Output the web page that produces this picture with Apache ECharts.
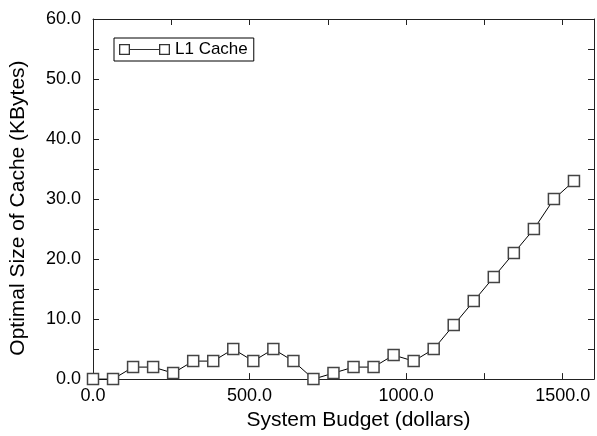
<!DOCTYPE html>
<html>
<head>
<meta charset="utf-8">
<script src="https://cdn.jsdelivr.net/npm/echarts@6/dist/echarts.min.js"></script>
<style>
html,body{margin:0;padding:0;background:#fff;}
#chart{width:597px;height:436px;}
</style>
</head>
<body>
<div id="chart"></div>
<script>
// Data
var budget = [0, 64, 128, 192, 256, 320, 384, 448, 512, 576, 640, 704, 768, 832, 896, 960, 1024, 1088, 1152, 1216, 1280, 1344, 1408, 1472, 1536];
var l1Cache = [0, 0, 2, 2, 1, 3, 3, 5, 3, 5, 3, 0, 1, 2, 2, 4, 3, 5, 9, 13, 17, 21, 25, 30, 33];
var seriesName = 'L1 Cache';
var xTitle = 'System Budget (dollars)';
var yTitle = 'Optimal Size of Cache (KBytes)';

var FONT = "'Liberation Sans', Arial, Helvetica, sans-serif";
var points = budget.map(function (b, i) { return [b, l1Cache[i]]; });

var axisLine = { show: true, onZero: false, lineStyle: { color: '#222', width: 1 } };
var tickIn = { show: true, inside: true, length: 6, lineStyle: { color: '#222', width: 1 } };

var chart = echarts.init(document.getElementById('chart'), null, { renderer: 'canvas' });
chart.setOption({
  animation: false,
  backgroundColor: '#fff',
  grid: { left: 90, right: 1, top: 19, bottom: 55, containLabel: false },
  legend: {
    left: 114, top: 38,
    orient: 'horizontal',
    data: [seriesName],
    icon: 'path://M0 0H11V11H0Z M1.3 1.3V9.7H9.7V1.3Z M11 5H40V6H11Z M40 0H51V11H40Z M41.3 1.3V9.7H49.7V1.3Z',
    itemWidth: 51, itemHeight: 11,
    itemStyle: { color: '#333', borderWidth: 0 },
    borderColor: '#000', borderWidth: 1,
    padding: [3, 6, 3, 5],
    textStyle: { fontFamily: FONT, fontSize: 17, color: '#000' }
  },
  xAxis: [{
    type: 'value', min: 0, max: 1600, interval: 250,
    position: 'bottom',
    axisLine: axisLine, axisTick: tickIn, splitLine: { show: false },
    axisLabel: {
      fontFamily: FONT, fontSize: 18, color: '#000', margin: 8,
      formatter: function (v) { return v % 500 === 0 ? v.toFixed(1) : ''; }
    },
    name: xTitle, nameLocation: 'middle', nameGap: 29,
    nameTextStyle: { fontFamily: FONT, fontSize: 21, color: '#000', padding: [0, 0, 0, 30] }
  }, {
    type: 'value', min: 0, max: 1600, interval: 250,
    position: 'top',
    axisLine: axisLine, axisTick: tickIn, splitLine: { show: false },
    axisLabel: { show: false }
  }],
  yAxis: [{
    type: 'value', min: 0, max: 60, interval: 5,
    position: 'left',
    axisLine: axisLine, axisTick: tickIn, splitLine: { show: false },
    axisLabel: {
      fontFamily: FONT, fontSize: 18, color: '#000', margin: 12,
      formatter: function (v) { return v % 10 === 0 ? v.toFixed(1) : ''; }
    },
    name: yTitle, nameLocation: 'middle', nameGap: 64, nameRotate: 90,
    nameTextStyle: { fontFamily: FONT, fontSize: 21, color: '#000', padding: [0, 18, 0, 0] }
  }, {
    type: 'value', min: 0, max: 60, interval: 5,
    position: 'right',
    axisLine: axisLine, axisTick: tickIn, splitLine: { show: false },
    axisLabel: { show: false }
  }],
  series: [{
    name: seriesName,
    type: 'line',
    xAxisIndex: 0, yAxisIndex: 0,
    data: points,
    symbol: 'rect', symbolSize: 11,
    showAllSymbol: true,
    clip: false,
    lineStyle: { color: '#000', width: 1 },
    itemStyle: { color: '#fff', borderColor: '#444', borderWidth: 1.5 },
    emphasis: { disabled: true }
  }]
});
</script>
</body>
</html>
